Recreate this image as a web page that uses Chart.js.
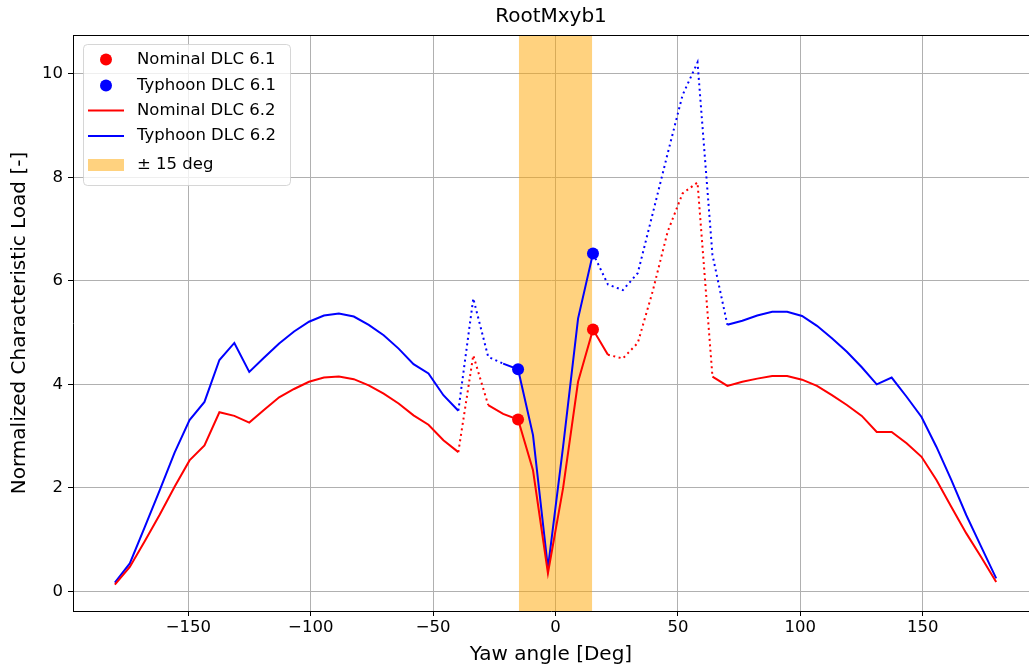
<!DOCTYPE html>
<html>
<head>
<meta charset="utf-8">
<title>RootMxyb1</title>
<script src="https://cdn.jsdelivr.net/npm/chart.js@4.4.0/dist/chart.umd.min.js"></script>
<style>
  html, body { margin: 0; padding: 0; background: #fff; }
  #wrap { width: 1029px; height: 669px; }
</style>
</head>
<body>
<div id="wrap"><canvas id="loadChart" width="1029" height="669"></canvas></div>
<script>
// yaw angles [deg] shared by both DLC 6.2 series
const yawAngles = [
  -180.0, -173.9, -167.8, -161.7, -155.6, -149.5, -143.4, -137.3, -131.2, -125.1,
  -119.0, -112.9, -106.8, -100.7, -94.6, -88.5, -82.4, -76.3, -70.2, -64.1,
  -58.0, -51.9, -45.8, -39.7, -33.6, -27.5, -21.4, -15.3, -9.2, -3.1,
  3.1, 9.2, 15.3, 21.4, 27.5, 33.6, 39.7, 45.8, 51.9, 58.0,
  64.1, 70.2, 76.3, 82.4, 88.5, 94.6, 100.7, 106.8, 112.9, 119.0,
  125.1, 131.2, 137.3, 143.4, 149.5, 155.6, 161.7, 167.8, 173.9, 180.0
];

const nominalDlc62 = [
  0.13, 0.47, 0.97, 1.48, 2.02, 2.53, 2.82, 3.46, 3.39, 3.26,
  3.51, 3.75, 3.91, 4.05, 4.13, 4.15, 4.10, 3.98, 3.82, 3.63,
  3.40, 3.22, 2.92, 2.69, 4.56, 3.60, 3.43, 3.32, 2.34, 0.35,
  2.00, 4.05, 5.06, 4.57, 4.50, 4.80, 5.80, 6.95, 7.69, 7.90,
  4.15, 3.97, 4.05, 4.11, 4.16, 4.16, 4.09, 3.97, 3.79, 3.60,
  3.39, 3.08, 3.08, 2.86, 2.60, 2.15, 1.63, 1.12, 0.66, 0.18
];

const typhoonDlc62 = [
  0.17, 0.54, 1.24, 1.95, 2.68, 3.31, 3.66, 4.47, 4.80, 4.24,
  4.52, 4.79, 5.02, 5.21, 5.33, 5.37, 5.31, 5.15, 4.95, 4.69,
  4.39, 4.21, 3.79, 3.49, 5.66, 4.53, 4.40, 4.29, 3.02, 0.45,
  2.80, 5.27, 6.53, 5.93, 5.82, 6.15, 7.30, 8.46, 9.59, 10.22,
  6.50, 5.15, 5.23, 5.33, 5.40, 5.40, 5.32, 5.13, 4.89, 4.63,
  4.33, 4.00, 4.13, 3.76, 3.37, 2.79, 2.15, 1.47, 0.86, 0.25
];

// segments (by start index) drawn dotted
const nominalDotted = [23, 24, 33, 34, 35, 36, 37, 38, 39];
const typhoonDotted = [23, 24, 25, 32, 33, 34, 35, 36, 37, 38, 39, 40];

// DLC 6.1 points
const dlc61Angles = [-15.3, 15.3];
const nominalDlc61 = [3.32, 5.06];
const typhoonDlc61 = [4.29, 6.53];

const bandLimits = [-15, 15];

const xTickValues = [-150, -100, -50, 0, 50, 100, 150];
const yTickValues = [0, 2, 4, 6, 8, 10];

const FONT = 'DejaVu Sans';
const DOTS = [2, 3.5];

function toPoints(xs, ys) {
  return xs.map((x, i) => ({ x: x, y: ys[i] }));
}

function formatTick(v) {
  return v < 0 ? '\u2212' + Math.abs(v) : String(v);
}

// top spine (matplotlib style frame)
const topFrame = {
  id: 'topFrame',
  afterDatasetsDraw(chart) {
    const { ctx, chartArea } = chart;
    const y = Math.round(chartArea.top) + 0.5;
    ctx.save();
    ctx.strokeStyle = '#000';
    ctx.lineWidth = 1;
    ctx.beginPath();
    ctx.moveTo(chartArea.left, y);
    ctx.lineTo(chartArea.right, y);
    ctx.stroke();
    ctx.restore();
  }
};

// legend drawn inside the axes, upper left
const boxLegend = {
  id: 'boxLegend',
  afterDraw(chart) {
    const { ctx, chartArea } = chart;
    const x0 = chartArea.left + 10;
    const y0 = chartArea.top + 9;
    const rows = [15.5, 41.5, 66.5, 92, 121];
    ctx.save();
    ctx.beginPath();
    ctx.roundRect(x0 + 0.5, y0 + 0.5, 207, 141, 4);
    ctx.fillStyle = 'rgba(255,255,255,0.8)';
    ctx.fill();
    ctx.strokeStyle = 'rgba(204,204,204,0.8)';
    ctx.lineWidth = 1;
    ctx.stroke();

    chart.data.datasets.forEach((ds, i) => {
      const cy = y0 + rows[i];
      if (ds.legendKind === 'dot') {
        ctx.beginPath();
        ctx.arc(x0 + 23, cy, 6, 0, Math.PI * 2);
        ctx.fillStyle = ds.backgroundColor;
        ctx.fill();
      } else if (ds.legendKind === 'line') {
        ctx.beginPath();
        ctx.moveTo(x0 + 5, cy);
        ctx.lineTo(x0 + 41, cy);
        ctx.strokeStyle = ds.borderColor;
        ctx.lineWidth = 2;
        ctx.stroke();
      } else {
        ctx.fillStyle = ds.backgroundColor;
        ctx.fillRect(x0 + 5, cy - 6, 36, 12);
      }
      ctx.fillStyle = '#000';
      ctx.font = '16.5px "' + FONT + '"';
      ctx.textBaseline = 'middle';
      ctx.textAlign = 'left';
      ctx.fillText(ds.label, x0 + 54, cy);
    });
    ctx.restore();
  }
};

new Chart(document.getElementById('loadChart'), {
  type: 'scatter',
  data: {
    datasets: [
      {
        label: 'Nominal DLC 6.1',
        legendKind: 'dot',
        data: toPoints(dlc61Angles, nominalDlc61),
        backgroundColor: '#ff0000',
        borderColor: '#ff0000',
        borderWidth: 0,
        pointRadius: 6,
        pointHoverRadius: 6,
        order: 1
      },
      {
        label: 'Typhoon DLC 6.1',
        legendKind: 'dot',
        data: toPoints(dlc61Angles, typhoonDlc61),
        backgroundColor: '#0000ff',
        borderColor: '#0000ff',
        borderWidth: 0,
        pointRadius: 6,
        pointHoverRadius: 6,
        order: 1
      },
      {
        label: 'Nominal DLC 6.2',
        legendKind: 'line',
        data: toPoints(yawAngles, nominalDlc62),
        showLine: true,
        borderColor: '#ff0000',
        backgroundColor: '#ff0000',
        borderWidth: 2,
        pointRadius: 0,
        tension: 0,
        segment: {
          borderDash: ctx => nominalDotted.includes(ctx.p0DataIndex) ? DOTS : undefined
        },
        order: 3
      },
      {
        label: 'Typhoon DLC 6.2',
        legendKind: 'line',
        data: toPoints(yawAngles, typhoonDlc62),
        showLine: true,
        borderColor: '#0000ff',
        backgroundColor: '#0000ff',
        borderWidth: 2,
        pointRadius: 0,
        tension: 0,
        segment: {
          borderDash: ctx => typhoonDotted.includes(ctx.p0DataIndex) ? DOTS : undefined
        },
        order: 3
      },
      {
        label: '\u00b1 15 deg',
        legendKind: 'patch',
        data: bandLimits.map(x => ({ x: x, y: 100 })),
        showLine: true,
        fill: 'start',
        backgroundColor: 'rgba(255,165,0,0.5)',
        borderColor: 'rgba(0,0,0,0)',
        borderWidth: 0,
        pointRadius: 0,
        order: 5
      }
    ]
  },
  options: {
    responsive: false,
    devicePixelRatio: 1,
    animation: false,
    layout: { padding: 0, autoPadding: false },
    plugins: {
      legend: { display: false },
      tooltip: { enabled: false },
      title: {
        display: true,
        fullSize: false,
        text: 'RootMxyb1',
        color: '#000',
        font: { family: FONT, size: 20, weight: 'normal' },
        padding: { top: 5, bottom: 6 }
      }
    },
    scales: {
      x: {
        type: 'linear',
        min: -197.1,
        max: 193.4,
        afterBuildTicks: scale => { scale.ticks = xTickValues.map(v => ({ value: v })); },
        afterFit: scale => {
          scale.height = 58;
          scale.paddingLeft = 0;
          scale.paddingRight = 0;
        },
        grid: { color: '#b0b0b0', lineWidth: 1, tickColor: '#000', tickLength: 5 },
        border: { color: '#000', width: 1 },
        ticks: {
          color: '#000',
          font: { family: FONT, size: 16.5 },
          padding: 2,
          maxRotation: 0,
          autoSkip: false,
          callback: formatTick
        },
        title: {
          display: true,
          text: 'Yaw angle [Deg]',
          color: '#000',
          font: { family: FONT, size: 20 },
          padding: { top: 0, bottom: 2 }
        }
      },
      y: {
        type: 'linear',
        min: -0.38,
        max: 10.75,
        afterBuildTicks: scale => { scale.ticks = yTickValues.map(v => ({ value: v })); },
        afterFit: scale => {
          scale.width = 73;
          scale.paddingTop = 0;
          scale.paddingBottom = 0;
        },
        grid: { color: '#b0b0b0', lineWidth: 1, tickColor: '#000', tickLength: 5 },
        border: { color: '#000', width: 1 },
        ticks: {
          color: '#000',
          font: { family: FONT, size: 16.5 },
          padding: 5,
          callback: formatTick
        },
        title: {
          display: true,
          text: 'Normalized Characteristic Load [-]',
          color: '#000',
          font: { family: FONT, size: 20 },
          padding: { top: 8, bottom: 0 }
        }
      }
    }
  },
  plugins: [topFrame, boxLegend]
});
</script>
</body>
</html>
